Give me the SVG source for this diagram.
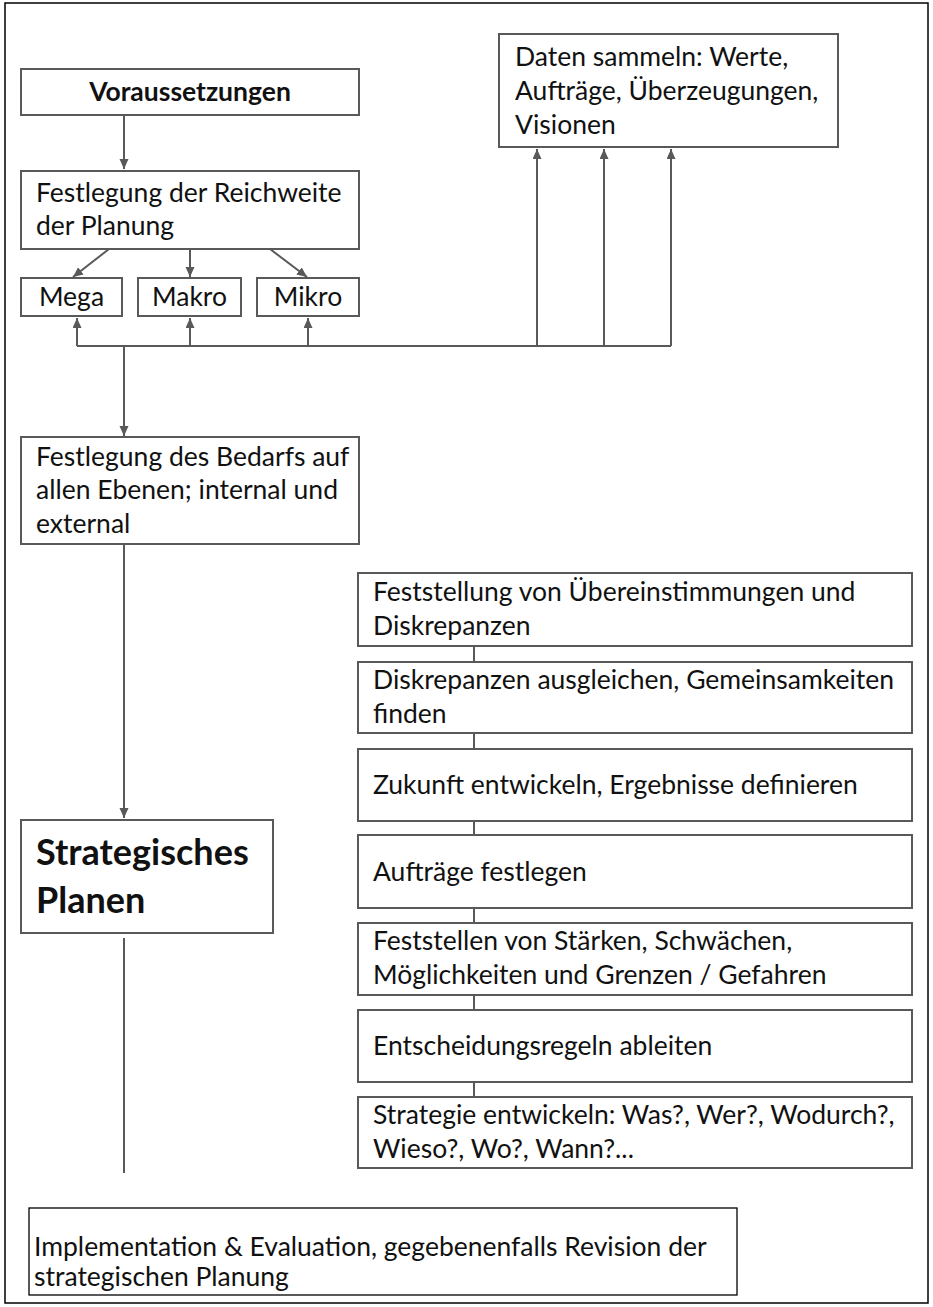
<svg xmlns="http://www.w3.org/2000/svg" width="933" height="1307" viewBox="0 0 933 1307">
<style>
.box{fill:#fff;stroke:#595959;stroke-width:2}
.bbox{fill:#fff;stroke:#000;stroke-width:1.3}
.t{font-family:Lato,"Open Sans","Liberation Sans",sans-serif;font-size:26.5px;fill:#111}
.b{font-family:Lato,"Open Sans","Liberation Sans",sans-serif;font-weight:bold;fill:#111}
.c{fill:none;stroke:#595959;stroke-width:2}
</style>
<defs>
<marker id="ah" markerUnits="userSpaceOnUse" markerWidth="10" markerHeight="10" refX="10" refY="4.5" orient="auto">
<path d="M0,0 L10,4.5 L0,9 z" fill="#595959"/>
</marker>
</defs>
<rect x="5" y="3" width="923" height="1300" fill="#fff" stroke="#000" stroke-width="1.5"/>

<g id="connectors">
<line class="c" x1="124" y1="115" x2="124" y2="169" marker-end="url(#ah)"/>
<line class="c" x1="109" y1="249" x2="73" y2="277" marker-end="url(#ah)"/>
<line class="c" x1="190" y1="249" x2="190" y2="277" marker-end="url(#ah)"/>
<line class="c" x1="270" y1="249" x2="307" y2="277" marker-end="url(#ah)"/>
<polyline class="c" points="77,346 671,346"/>
<line class="c" x1="77" y1="346" x2="77" y2="318" marker-end="url(#ah)"/>
<line class="c" x1="190" y1="346" x2="190" y2="318" marker-end="url(#ah)"/>
<line class="c" x1="308" y1="346" x2="308" y2="318" marker-end="url(#ah)"/>
<line class="c" x1="537" y1="346" x2="537" y2="149" marker-end="url(#ah)"/>
<line class="c" x1="604" y1="346" x2="604" y2="149" marker-end="url(#ah)"/>
<line class="c" x1="671" y1="346" x2="671" y2="149" marker-end="url(#ah)"/>
<line class="c" x1="124" y1="346" x2="124" y2="436" marker-end="url(#ah)"/>
<line class="c" x1="124" y1="544" x2="124" y2="818" marker-end="url(#ah)"/>
<line class="c" x1="124" y1="938" x2="124" y2="1173"/>
<line class="c" x1="474" y1="646" x2="474" y2="662"/>
<line class="c" x1="474" y1="733" x2="474" y2="749"/>
<line class="c" x1="474" y1="821" x2="474" y2="835"/>
<line class="c" x1="474" y1="908" x2="474" y2="923"/>
<line class="c" x1="474" y1="995" x2="474" y2="1010"/>
<line class="c" x1="474" y1="1082" x2="474" y2="1097"/>
</g>

<g id="voraussetzungen">
<rect class="box" x="21" y="69" width="338" height="46"/>
<text class="b" x="190" y="101" font-size="26.5" text-anchor="middle">Voraussetzungen</text>
</g>
<g id="reichweite">
<rect class="box" x="21" y="171" width="338" height="78"/>
<text class="t" x="36" y="202">Festlegung der Reichweite</text>
<text class="t" x="36" y="235">der Planung</text>
</g>
<g id="mega">
<rect class="box" x="21" y="278" width="101" height="38"/>
<text class="t" x="71.5" y="306" text-anchor="middle">Mega</text>
</g>
<g id="makro">
<rect class="box" x="138" y="278" width="103" height="38"/>
<text class="t" x="189.5" y="306" text-anchor="middle">Makro</text>
</g>
<g id="mikro">
<rect class="box" x="257" y="278" width="102" height="38"/>
<text class="t" x="308" y="306" text-anchor="middle">Mikro</text>
</g>
<g id="daten">
<rect class="box" x="499" y="34" width="339" height="113"/>
<text class="t" x="515" y="66">Daten sammeln: Werte,</text>
<text class="t" x="515" y="100">Aufträge, Überzeugungen,</text>
<text class="t" x="515" y="134">Visionen</text>
</g>
<g id="bedarf">
<rect class="box" x="21" y="437" width="338" height="107"/>
<text class="t" x="36" y="466">Festlegung des Bedarfs auf</text>
<text class="t" x="36" y="499">allen Ebenen; internal und</text>
<text class="t" x="36" y="533">external</text>
</g>
<g id="strategisches">
<rect class="box" x="21" y="820" width="252" height="113"/>
<text class="b" x="36" y="865" font-size="36">Strategisches</text>
<text class="b" x="36" y="913" font-size="36">Planen</text>
</g>
<g id="s1">
<rect class="box" x="358" y="573" width="554" height="73"/>
<text class="t" x="373" y="601">Feststellung von Übereinstimmungen und</text>
<text class="t" x="373" y="635">Diskrepanzen</text>
</g>
<g id="s2">
<rect class="box" x="358" y="662" width="554" height="71"/>
<text class="t" x="373" y="689">Diskrepanzen ausgleichen, Gemeinsamkeiten</text>
<text class="t" x="373" y="723">finden</text>
</g>
<g id="s3">
<rect class="box" x="358" y="749" width="554" height="72"/>
<text class="t" x="373" y="794">Zukunft entwickeln, Ergebnisse definieren</text>
</g>
<g id="s4">
<rect class="box" x="358" y="835" width="554" height="73"/>
<text class="t" x="373" y="881">Aufträge festlegen</text>
</g>
<g id="s5">
<rect class="box" x="358" y="923" width="554" height="72"/>
<text class="t" x="373" y="950">Feststellen von Stärken, Schwächen,</text>
<text class="t" x="373" y="984">Möglichkeiten und Grenzen / Gefahren</text>
</g>
<g id="s6">
<rect class="box" x="358" y="1010" width="554" height="72"/>
<text class="t" x="373" y="1055">Entscheidungsregeln ableiten</text>
</g>
<g id="s7">
<rect class="box" x="358" y="1097" width="554" height="71"/>
<text class="t" x="373" y="1124">Strategie entwickeln: Was?, Wer?, Wodurch?,</text>
<text class="t" x="373" y="1158">Wieso?, Wo?, Wann?...</text>
</g>
<g id="implementation">
<rect class="bbox" x="29" y="1208" width="708" height="87"/>
<text class="t" x="34" y="1256">Implementation &amp; Evaluation, gegebenenfalls Revision der</text>
<text class="t" x="34" y="1286">strategischen Planung</text>
</g>
</svg>
